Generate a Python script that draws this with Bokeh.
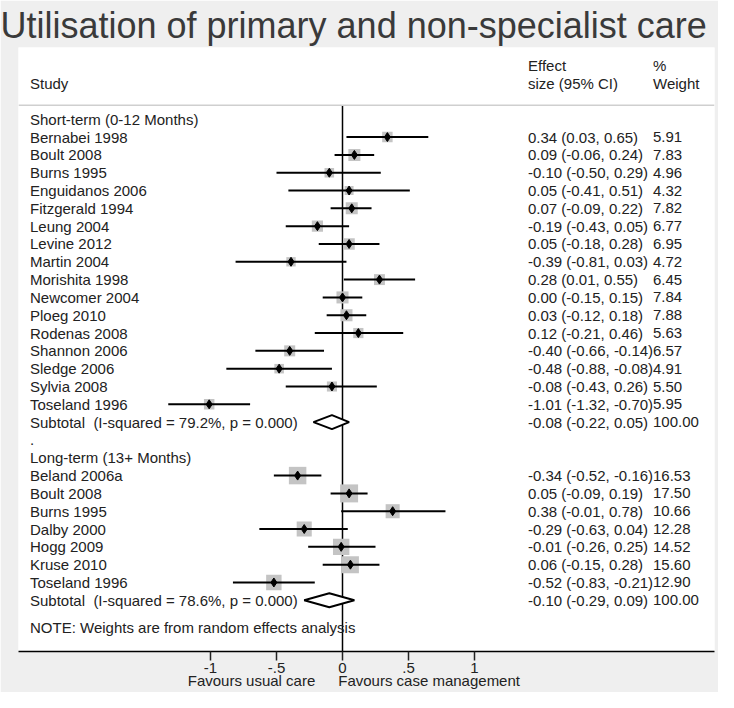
import numpy as np
from bokeh.plotting import figure
from bokeh.models import Range1d, FixedTicker, Span, LinearAxis
from bokeh.embed import file_html
from bokeh.resources import INLINE
from bokeh.core.properties import value

# ---------------- data ----------------
title_text = "Utilisation of primary and non-specialist care"

short_header = "Short-term (0-12 Months)"
short_studies = ["Bernabei 1998", "Boult 2008", "Burns 1995", "Enguidanos 2006",
                 "Fitzgerald 1994", "Leung 2004", "Levine 2012", "Martin 2004",
                 "Morishita 1998", "Newcomer 2004", "Ploeg 2010", "Rodenas 2008",
                 "Shannon 2006", "Sledge 2006", "Sylvia 2008", "Toseland 1996"]
short_es = [0.34, 0.09, -0.10, 0.05, 0.07, -0.19, 0.05, -0.39, 0.28, 0.00, 0.03, 0.12,
            -0.40, -0.48, -0.08, -1.01]
short_lo = [0.03, -0.06, -0.50, -0.41, -0.09, -0.43, -0.18, -0.81, 0.01, -0.15, -0.12, -0.21,
            -0.66, -0.88, -0.43, -1.32]
short_hi = [0.65, 0.24, 0.29, 0.51, 0.22, 0.05, 0.28, 0.03, 0.55, 0.15, 0.18, 0.46,
            -0.14, -0.08, 0.26, -0.70]
short_wt = [5.91, 7.83, 4.96, 4.32, 7.82, 6.77, 6.95, 4.72, 6.45, 7.84, 7.88, 5.63,
            6.57, 4.91, 5.50, 5.95]
short_sub_label = "Subtotal\u00a0\u00a0(I-squared = 79.2%, p = 0.000)"
short_sub = [-0.08, -0.22, 0.05, 100.00]

long_header = "Long-term (13+ Months)"
long_studies = ["Beland 2006a", "Boult 2008", "Burns 1995", "Dalby 2000", "Hogg 2009",
                "Kruse 2010", "Toseland 1996"]
long_es = [-0.34, 0.05, 0.38, -0.29, -0.01, 0.06, -0.52]
long_lo = [-0.52, -0.09, -0.01, -0.63, -0.26, -0.15, -0.83]
long_hi = [-0.16, 0.19, 0.78, 0.04, 0.25, 0.28, -0.21]
long_wt = [16.53, 17.50, 10.66, 12.28, 14.52, 15.60, 12.90]
long_sub_label = "Subtotal\u00a0\u00a0(I-squared = 78.6%, p = 0.000)"
long_sub = [-0.10, -0.29, 0.09, 100.00]

note_text = "NOTE: Weights are from random effects analysis"
tick_values = [-1, -0.5, 0, 0.5, 1]
tick_labels = ["-1", "-.5", "0", ".5", "1"]
favours_labels = ["Favours usual care", "Favours case management"]

# ---------------- layout (pixels -> data) ----------------
W, H = 718, 692
ZERO_PX = 342.0          # x pixel of effect 0
PX_PER_UNIT = 132.0
FRAME_L, FRAME_R = 18, 714
FRAME_T, FRAME_B = 45, 651
ROW0_PX = 117.0
ROW_PX = 17.875

def dx(px):
    return (px - ZERO_PX) / PX_PER_UNIT

def ry(px):
    return (px - ROW0_PX) / ROW_PX

FONT = value("Liberation Sans")
TXT = "#222222"
FS = "15px"

p = figure(width=W, height=H, output_backend="svg", toolbar_location=None,
           x_range=Range1d(dx(FRAME_L), dx(FRAME_R)),
           y_range=Range1d(ry(FRAME_B), ry(FRAME_T)),
           y_axis_location=None,
           min_border_left=FRAME_L, min_border_right=W - FRAME_R,
           min_border_top=FRAME_T, min_border_bottom=H - FRAME_B)

p.title.text = title_text
p.title.text_font = "Liberation Sans"
p.title.text_font_size = "36px"
p.title.text_font_style = "normal"
p.title.text_color = "#3a3a3a"
p.title.align = "left"
p.title.standoff = 4
p.title.offset = -18

p.background_fill_color = "white"
p.border_fill_color = "#efefef"
p.outline_line_color = None
p.xgrid.visible = False
p.ygrid.visible = False

# rows
n_s = len(short_studies)
n_l = len(long_studies)
row_short_hdr = 0
rows_short = list(range(1, n_s + 1))
row_short_sub = n_s + 1
row_dot = n_s + 2
row_long_hdr = n_s + 3
rows_long = list(range(n_s + 4, n_s + 4 + n_l))
row_long_sub = n_s + 4 + n_l
row_note = row_long_sub + 1.53

study_rows = rows_short + rows_long
es = short_es + long_es
lo = short_lo + long_lo
hi = short_hi + long_hi
wt = short_wt + long_wt

# separator and zero line
SEP = ry(103)
p.add_layout(Span(location=SEP, dimension="width", line_color="#cfcfcf", line_width=1.5))
p.segment(x0=[0], y0=[SEP], x1=[0], y1=[ry(FRAME_B)], line_color="black", line_width=1.5)

# weight squares
sizes = [4.3 * np.sqrt(w) for w in wt]
p.scatter(x=es, y=study_rows, size=sizes, marker="square", fill_color="#c4c4c4",
          line_color=None)
# CIs
p.segment(x0=lo, y0=study_rows, x1=hi, y1=study_rows, line_color="black", line_width=2)
# point estimates
p.scatter(x=es, y=study_rows, size=9, marker="diamond", fill_color="black", line_color="black")

# subtotal diamonds
hh = 7.0 / ROW_PX
xs, ys = [], []
for sub, r in [(short_sub, row_short_sub), (long_sub, row_long_sub)]:
    e, l, h = sub[0], sub[1], sub[2]
    xs.append([l, e, h, e])
    ys.append([r, r - hh, r, r + hh])
p.patches(xs=xs, ys=ys, fill_color="white", line_color="black", line_width=2)

# text columns
COL_STUDY = dx(29.5)
COL_ES = dx(527.5)
COL_WT = dx(652.5)

labels = ([short_header] + short_studies + [short_sub_label, ".", long_header]
          + long_studies + [long_sub_label, note_text])
label_rows = ([row_short_hdr] + rows_short + [row_short_sub, row_dot, row_long_hdr]
              + rows_long + [row_long_sub, row_note])
p.text(x=[COL_STUDY] * len(labels), y=label_rows, text=labels, text_font=FONT,
       text_font_size=FS, text_color=TXT, text_baseline="middle", text_align="left")

fmt = lambda e, l, h: f"{e:.2f} ({l:.2f}, {h:.2f})"
es_text = [fmt(e, l, h) for e, l, h in zip(es, lo, hi)]
es_text += [fmt(*short_sub[:3]), fmt(*long_sub[:3])]
wt_text = [f"{w:.2f}" for w in wt] + [f"{short_sub[3]:.2f}", f"{long_sub[3]:.2f}"]
col_rows = study_rows + [row_short_sub, row_long_sub]
p.text(x=[COL_ES] * len(es_text), y=col_rows, text=es_text, text_font=FONT,
       text_font_size=FS, text_color=TXT, text_baseline="middle", text_align="left")
p.text(x=[COL_WT] * len(wt_text), y=col_rows, text=wt_text, text_font=FONT,
       text_font_size=FS, text_color=TXT, text_baseline="middle", text_align="left")

# headers
p.text(x=[COL_STUDY, COL_ES, COL_ES, COL_WT, COL_WT],
       y=[-2, -3, -2, -3, -2],
       text=["Study", "Effect", "size (95% CI)", "%", "Weight"],
       text_font=FONT, text_font_size=FS, text_color=TXT,
       text_baseline="middle", text_align="left")

# x axis
ax = p.xaxis[0]
ax.ticker = FixedTicker(ticks=tick_values)
ax.major_label_overrides = {v: t for v, t in zip(tick_values, tick_labels)}
ax.major_tick_out = 9
ax.major_tick_in = 0
ax.minor_tick_line_color = None
ax.axis_line_width = 1.5
ax.major_tick_line_width = 1.5
ax.axis_line_color = "black"
ax.major_tick_line_color = "#222222"
ax.major_label_text_font = "Liberation Sans"
ax.major_label_text_font_size = FS
ax.major_label_text_color = TXT
ax.major_label_standoff = 2

# "favours" labels as a second, line-less axis underneath
fav_pos = [dx(251), dx(428.6)]
fav_axis = LinearAxis(ticker=FixedTicker(ticks=fav_pos),
                      major_label_overrides={v: t for v, t in zip(fav_pos, favours_labels)},
                      axis_line_color=None, major_tick_line_color=None,
                      minor_tick_line_color=None, major_tick_out=0, major_tick_in=0,
                      major_label_standoff=-4,
                      major_label_text_font="Liberation Sans",
                      major_label_text_font_size=FS, major_label_text_color=TXT)
p.add_layout(fav_axis, "below")

open("out.html", "w").write(file_html(p, INLINE))
